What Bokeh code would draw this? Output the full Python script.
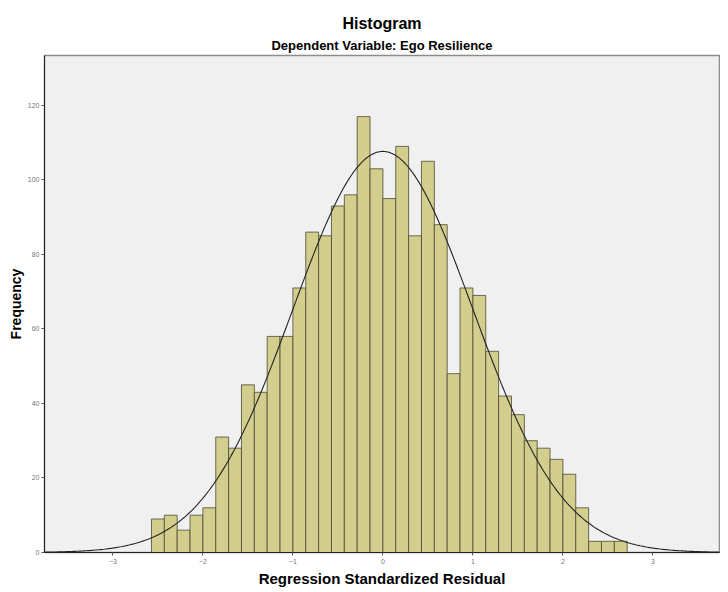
import numpy as np
from bokeh.plotting import figure
from bokeh.models import Title, Range1d, FixedTicker
from bokeh.embed import file_html
from bokeh.resources import INLINE

# Histogram data (bin width 1/7, first bin starts at -18/7)
bin_width = 1.0 / 7.0
first_edge = -18.0 / 7.0
counts = [9, 10, 6, 10, 12, 31, 28, 45, 43, 58, 58, 71, 86, 85, 93, 96, 117,
          103, 95, 109, 85, 105, 88, 48, 71, 69, 54, 42, 37, 30, 28, 25, 21,
          12, 3, 3, 3]
y_ticks = [0, 20, 40, 60, 80, 100, 120]
x_ticks = [-3, -2, -1, 0, 1, 2, 3]
mean = 0.0
std_dev = 1.0
n_total = sum(counts)

lefts = [first_edge + i * bin_width for i in range(len(counts))]
rights = [l + bin_width for l in lefts]

FONT = "Liberation Sans"

p = figure(frame_width=675, frame_height=497, output_backend="svg",
           toolbar_location=None, min_border_left=44, min_border_top=55,
           min_border_right=1, min_border_bottom=10,
           x_range=Range1d(-3.76, 3.74), y_range=Range1d(0, 133.4))

p.title.text = "Histogram"
p.title.align = "center"
p.title.text_font = FONT
p.title.text_font_size = "16px"
p.title.text_font_style = "bold"
p.title.text_color = "black"
p.title.standoff = 4
p.title.offset = 0
sub = Title(text="Dependent Variable: Ego Resilience", align="center",
            text_font=FONT, text_font_size="13px", text_font_style="bold",
            text_color="black", standoff=5)
p.add_layout(sub, "above")

p.background_fill_color = "#f0f0f0"
p.border_fill_color = "white"
p.outline_line_color = "#8c8c8c"
p.outline_line_width = 1.5
p.grid.visible = False

p.quad(left=lefts, right=rights, bottom=0, top=counts,
       fill_color="#d3cd8e", line_color="#4b4a30", line_width=0.8)

xs = np.linspace(-3.76, 3.74, 400)
ys = n_total * bin_width * np.exp(-0.5 * ((xs - mean) / std_dev) ** 2) / (std_dev * np.sqrt(2 * np.pi))
p.line(xs, ys, line_color="#222222", line_width=1.1)

for ax in (p.xaxis[0], p.yaxis[0]):
    ax.axis_line_color = "#222222"
    ax.major_tick_line_color = "#555555"
    ax.major_tick_out = 3
    ax.major_tick_in = 0
    ax.minor_tick_out = 0
    ax.minor_tick_in = 0
    ax.major_label_text_font = FONT
    ax.major_label_text_font_size = "7px"
    ax.major_label_text_color = "#777777"
    ax.axis_label_text_font = FONT
    ax.axis_label_text_font_style = "bold"
    ax.axis_label_text_color = "black"

p.xaxis.ticker = FixedTicker(ticks=x_ticks)
p.yaxis.ticker = FixedTicker(ticks=y_ticks)
p.xaxis.axis_label = "Regression Standardized Residual"
p.xaxis.axis_label_text_font_size = "15px"
p.xaxis.major_label_standoff = 3
p.xaxis.axis_label_standoff = 3
p.yaxis.axis_label = "Frequency"
p.yaxis.axis_label_text_font_size = "14px"
p.yaxis.major_label_standoff = 2
p.yaxis.axis_label_standoff = 1

open("out.html", "w").write(file_html(p, INLINE))
